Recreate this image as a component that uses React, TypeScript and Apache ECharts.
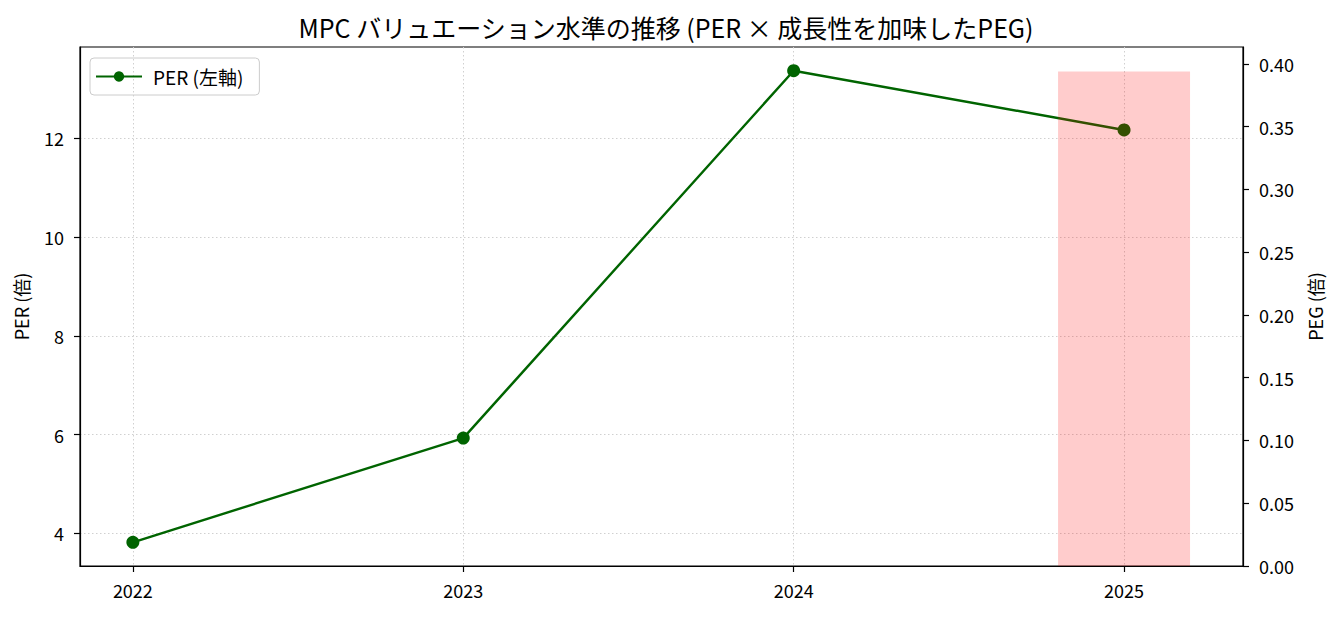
import { useEffect, useRef } from "react";
import * as echarts from "echarts";

const years = ["2022", "2023", "2024", "2025"];
const perValues = [3.82, 5.93, 13.37, 12.17];
const pegValues: (number | null)[] = [null, null, null, 0.394];
const perTicks = [4, 6, 8, 10, 12];
const pegTicks = [0, 0.05, 0.1, 0.15, 0.2, 0.25, 0.3, 0.35, 0.4];

const FONT = "'Noto Sans CJK JP', sans-serif";

export default function App() {
  const containerRef = useRef<HTMLDivElement>(null);

  useEffect(() => {
    document.body.style.margin = "0";
    if (!containerRef.current) return;
    const chart = echarts.init(containerRef.current, null, { renderer: "svg" });

    const xIdx = years.map((_, i) => i);
    const lineData = perValues.map((v, i) => [i, v]);
    const barData = pegValues
      .map((v, i) => (v == null ? null : [i, v]))
      .filter((d) => d !== null);

    const tickLabel = { color: "#000", fontSize: 18, fontFamily: FONT };
    const gridLine = { color: "#d0d0d0", type: [1.5, 2.5], width: 1 };
    const tickStyle = { color: "#000", width: 1.2 };

    chart.setOption({
      animation: false,
      backgroundColor: "#fff",
      title: {
        text: "MPC バリュエーション水準の推移 (PER × 成長性を加味したPEG)",
        left: 661,
        textAlign: "center",
        top: 9,
        textStyle: { color: "#000", fontSize: 25, fontWeight: "normal", fontFamily: FONT },
      },
      legend: {
        left: 90,
        top: 58,
        data: ["PER (左軸)"],
        itemWidth: 46,
        itemHeight: 13,
        itemGap: 10,
        padding: [9, 16, 9, 5],
        borderColor: "#cccccc",
        borderWidth: 1,
        borderRadius: 4,
        textStyle: { color: "#000", fontSize: 19, fontFamily: FONT, padding: [0, 0, 0, 6] },
      },
      grid: {
        left: 80,
        right: 98,
        top: 47,
        bottom: 51,
        show: true,
        borderColor: "#000",
        borderWidth: 1.2,
      },
      xAxis: {
        type: "value",
        min: -0.16,
        max: 3.36,
        axisLine: { show: true, onZero: false, lineStyle: { color: "#000", width: 1.2 } },
        axisTick: { show: true, length: 6, customValues: xIdx, lineStyle: tickStyle },
        axisLabel: {
          ...tickLabel,
          margin: 15,
          customValues: xIdx,
          formatter: (v: number) => years[Math.round(v)] ?? "",
        },
        splitLine: { show: true, lineStyle: gridLine },
      },
      yAxis: [
        {
          type: "value",
          min: 3.34,
          max: 13.85,
          name: "PER (倍)",
          nameLocation: "middle",
          nameGap: 50,
          nameTextStyle: { color: "#000", fontSize: 18, fontFamily: FONT },
          axisLine: { show: true, onZero: false, lineStyle: { color: "#000", width: 1.2 } },
          axisTick: { show: true, length: 6, customValues: perTicks, lineStyle: tickStyle },
          axisLabel: { ...tickLabel, margin: 16, customValues: perTicks },
          splitLine: { show: true, lineStyle: gridLine },
        },
        {
          type: "value",
          min: 0,
          max: 0.4135,
          position: "right",
          name: "PEG (倍)",
          nameLocation: "middle",
          nameGap: 63,
          nameRotate: 90,
          nameTextStyle: { color: "#000", fontSize: 18, fontFamily: FONT },
          axisLine: { show: true, onZero: false, lineStyle: { color: "#000", width: 1.2 } },
          axisTick: { show: true, length: 6, customValues: pegTicks, lineStyle: tickStyle },
          axisLabel: {
            ...tickLabel,
            margin: 16,
            customValues: pegTicks,
            formatter: (v: number) => v.toFixed(2),
          },
          splitLine: { show: false },
        },
      ],
      series: [
        {
          name: "PER (左軸)",
          type: "line",
          yAxisIndex: 0,
          data: lineData,
          symbol: "circle",
          symbolSize: 13,
          lineStyle: { color: "#006400", width: 2.4 },
          itemStyle: { color: "#006400" },
          z: 2,
        },
        {
          name: "PEG (右軸)",
          type: "bar",
          yAxisIndex: 1,
          data: barData,
          barWidth: 132,
          itemStyle: { color: "rgba(255,0,0,0.2)" },
          z: 3,
        },
      ],
    });

    return () => chart.dispose();
  }, []);

  return <div ref={containerRef} style={{ width: 1341, height: 617 }} />;
}
